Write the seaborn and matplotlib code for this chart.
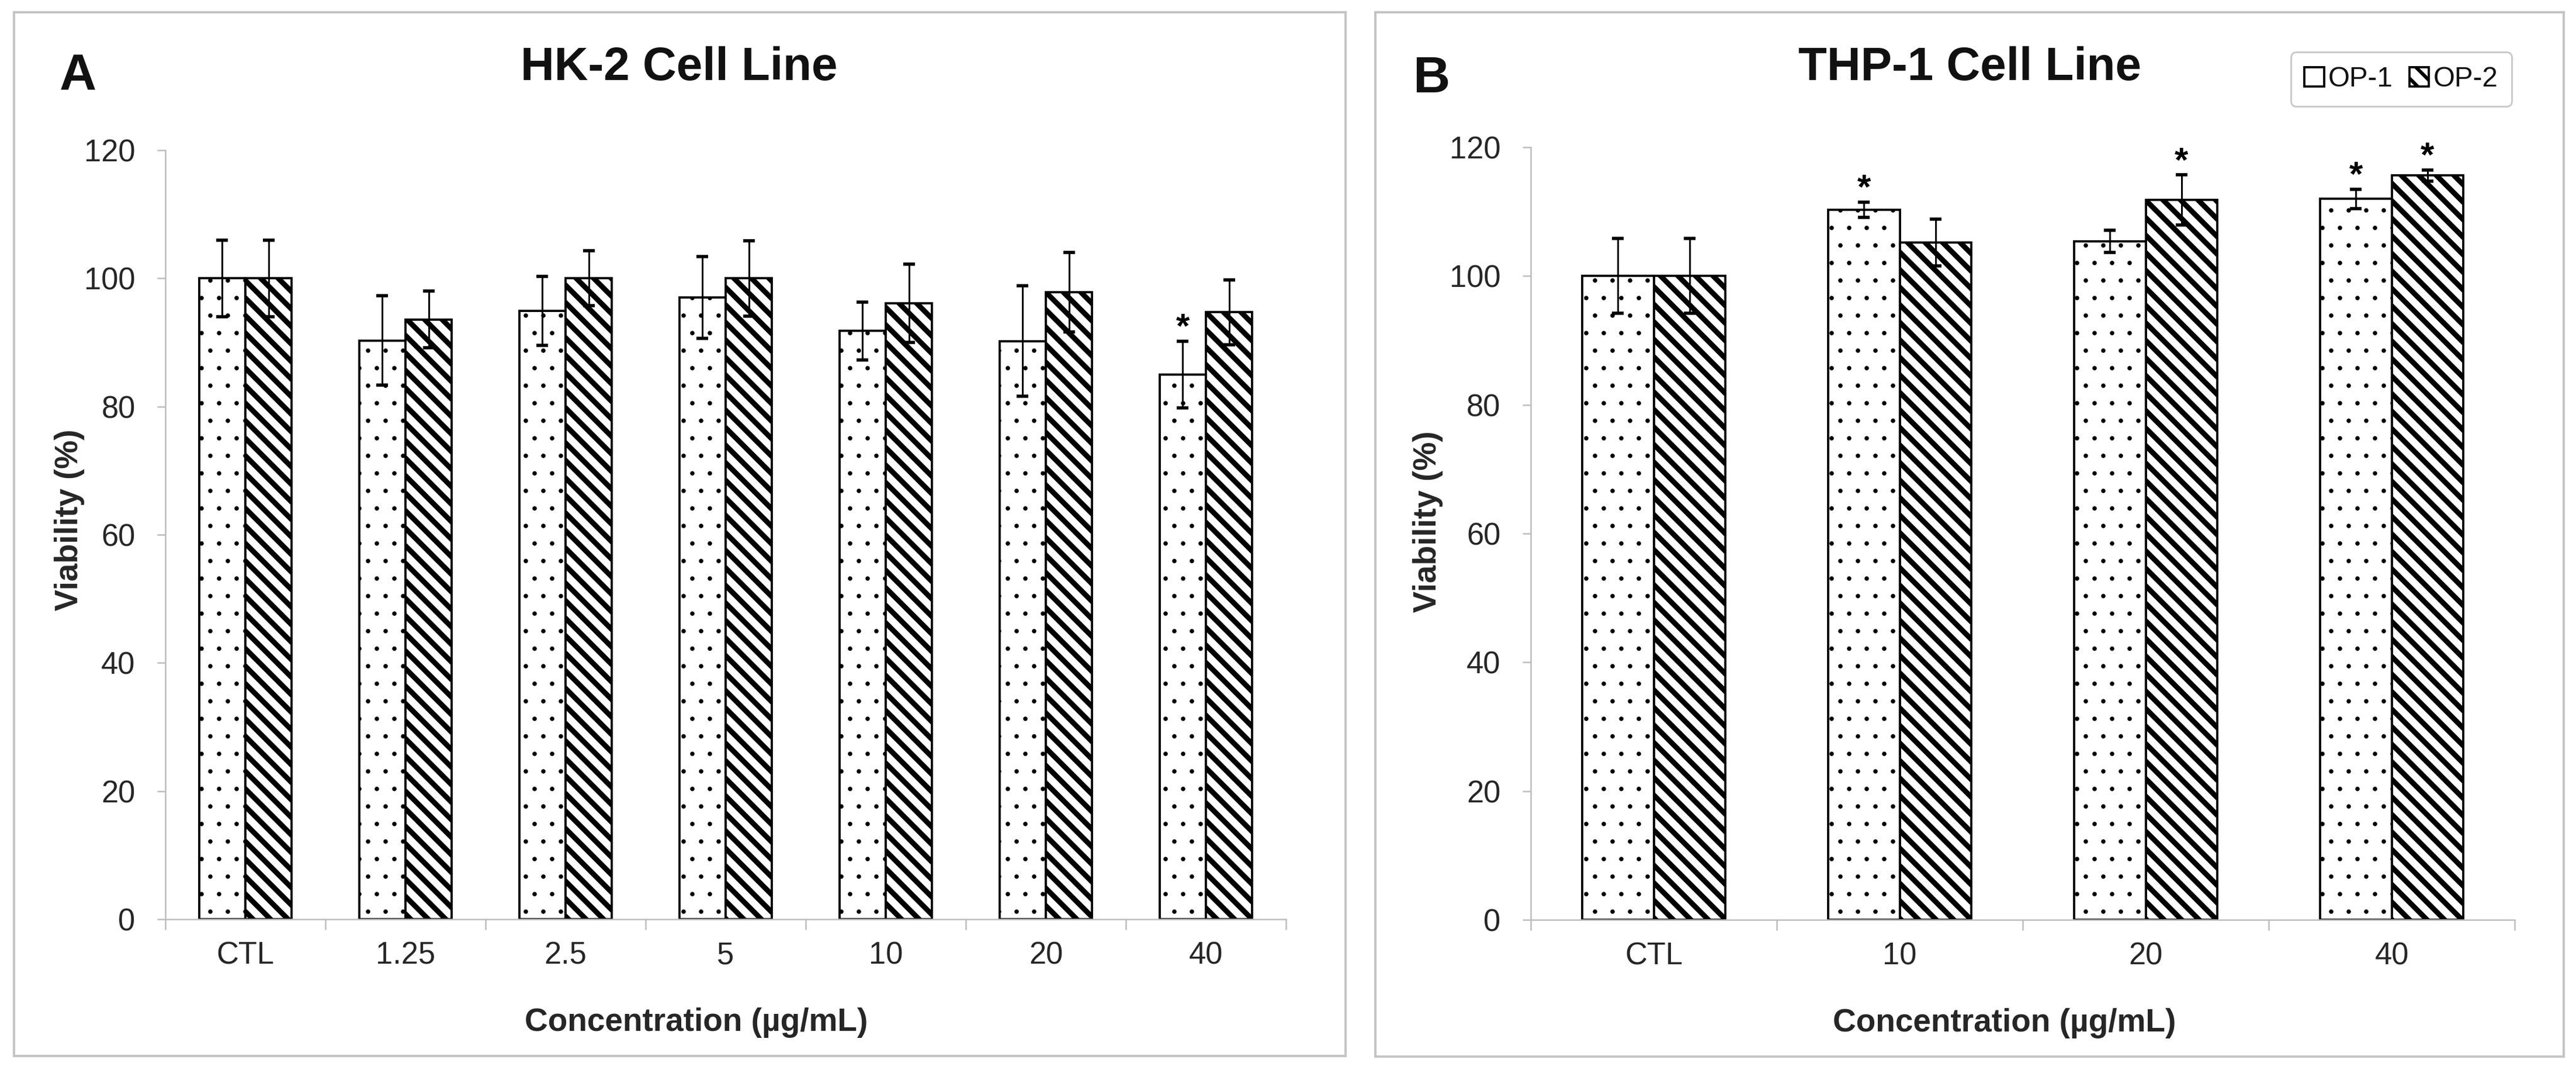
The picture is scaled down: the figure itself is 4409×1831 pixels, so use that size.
import matplotlib
matplotlib.use("Agg")
import matplotlib.pyplot as plt
from matplotlib.patches import Patch, Rectangle
import numpy as np
import pandas as pd
import seaborn as sns

W, H, DPI = 4409, 1831, 180

# HK-2 cell line (panel A)
hk2_conc = ["CTL", "1.25", "2.5", "5", "10", "20", "40"]
hk2_op1 = [100.0, 90.3, 94.9, 97.0, 91.8, 90.2, 85.0]
hk2_op1_err = [6.0, 7.0, 5.4, 6.4, 4.5, 8.6, 5.2]
hk2_op2 = [100.0, 93.6, 100.0, 100.0, 96.1, 97.8, 94.7]
hk2_op2_err = [6.0, 4.4, 4.3, 5.9, 6.1, 6.2, 5.1]
hk2_op1_sig = [False, False, False, False, False, False, True]
hk2_op2_sig = [False, False, False, False, False, False, False]

# THP-1 cell line (panel B)
thp1_conc = ["CTL", "10", "20", "40"]
thp1_op1 = [100.0, 110.3, 105.4, 112.0]
thp1_op1_err = [5.8, 1.2, 1.7, 1.5]
thp1_op2 = [100.0, 105.2, 111.8, 115.6]
thp1_op2_err = [5.8, 3.6, 3.9, 0.9]
thp1_op1_sig = [False, True, False, True]
thp1_op2_sig = [False, False, True, True]

groups = ["OP-1", "OP-2"]
hatches = {"OP-1": ".", "OP-2": "\\\\"}
hatch_lw = {"OP-1": 0.6, "OP-2": 3.6}

AXIS_GRAY = "#bdbdbd"
BOX_GRAY = "#c4c4c4"

sns.set_theme(style="ticks")
plt.rcParams["font.family"] = ["Liberation Sans", "DejaVu Sans"]
plt.rcParams["hatch.linewidth"] = 1.2
plt.rcParams["text.color"] = "#111111"


def draw_panel(ax, conc, means, errs, sigs):
    df = pd.DataFrame({
        "conc": np.tile(conc, 2),
        "group": np.repeat(groups, len(conc)),
        "viability": np.concatenate(means),
    })
    sns.barplot(data=df, x="conc", y="viability", hue="group",
                order=conc, hue_order=groups,
                palette={"OP-1": "white", "OP-2": "white"}, saturation=1,
                edgecolor="black", linewidth=1.5, width=0.58,
                errorbar=None, legend=False, ax=ax)

    for cont, g, err, sig in zip(ax.containers, groups, errs, sigs):
        xs, ys = [], []
        for bar in cont:
            bar.set_hatch(hatches[g])
            bar.set_hatch_linewidth(hatch_lw[g])
            xs.append(bar.get_x() + bar.get_width() / 2)
            ys.append(bar.get_height())
        ax.errorbar(xs, ys, yerr=err, fmt="none", ecolor="black",
                    elinewidth=1.2, capsize=4, capthick=2.2, zorder=5)
        for x, y, e, s in zip(xs, ys, err, sig):
            if s:
                ax.text(x, y + e + 0.5, "*", ha="center", va="baseline",
                        fontsize=24, fontweight="bold", color="black")

    n = len(conc)
    ax.set_ylim(0, 120)
    ax.set_yticks(range(0, 121, 20))
    ax.set_xlim(-0.5, n - 0.5)
    ax.set_xticks(np.arange(n))
    ax.set_xticklabels(conc)
    # Excel-style ticks between categories
    ax.set_xticks(np.arange(n + 1) - 0.5, minor=True)
    ax.tick_params(axis="x", which="major", length=0, pad=15, labelsize=21)
    ax.tick_params(axis="x", which="minor", length=7, width=1,
                   color=AXIS_GRAY, direction="out")
    ax.tick_params(axis="y", length=5.6, width=1, color=AXIS_GRAY,
                   pad=15, labelsize=21, direction="out")
    sns.despine(ax=ax)
    for s in ["left", "bottom"]:
        ax.spines[s].set_color(AXIS_GRAY)
        ax.spines[s].set_linewidth(1)
    ax.set_xlabel("Concentration (µg/mL)", fontsize=22, fontweight="bold")
    ax.set_ylabel("Viability (%)", fontsize=22, fontweight="bold")
    ax.xaxis.label.set_verticalalignment("baseline")
    ax.yaxis.label.set_verticalalignment("center")


fig = plt.figure(figsize=(W / DPI, H / DPI), dpi=DPI)
fig.patch.set_facecolor("white")

ax1 = fig.add_axes([283 / W, 1 - 1573 / H, 1918 / W, 1316 / H])
draw_panel(ax1, hk2_conc, [hk2_op1, hk2_op2], [hk2_op1_err, hk2_op2_err],
           [hk2_op1_sig, hk2_op2_sig])
ax1.xaxis.set_label_coords((1192 - 283) / 1918, (1573 - 1764) / 1316)
ax1.yaxis.set_label_coords((119 - 283) / 1918, (1573 - 890) / 1316)

ax2 = fig.add_axes([2620 / W, 1 - 1574 / H, 1684 / W, 1322 / H])
draw_panel(ax2, thp1_conc, [thp1_op1, thp1_op2], [thp1_op1_err, thp1_op2_err],
           [thp1_op1_sig, thp1_op2_sig])
ax2.xaxis.set_label_coords((3431 - 2620) / 1684, (1574 - 1765) / 1322)
ax2.yaxis.set_label_coords((2444 - 2620) / 1684, (1574 - 893) / 1322)

# panel frames
for x0, y0, x1, y1 in [(24, 21, 2303, 1807), (2354, 21, 4388, 1808)]:
    fig.add_artist(Rectangle((x0 / W, 1 - y1 / H), (x1 - x0) / W, (y1 - y0) / H,
                             transform=fig.transFigure, fill=False,
                             edgecolor=BOX_GRAY, linewidth=1.6))

# titles and panel letters
fig.text(1162 / W, 1 - 137 / H, "HK-2 Cell Line", ha="center", va="baseline",
         fontsize=32, fontweight="bold")
fig.text(3371 / W, 1 - 137 / H, "THP-1 Cell Line", ha="center", va="baseline",
         fontsize=32, fontweight="bold")
fig.text(102 / W, 1 - 153 / H, "A", ha="left", va="baseline",
         fontsize=35, fontweight="bold")
fig.text(2418 / W, 1 - 158 / H, "B", ha="left", va="baseline",
         fontsize=35, fontweight="bold")

legend_hatch = {"OP-1": None, "OP-2": "\\\\"}
handles = [Patch(facecolor="white", edgecolor="black", hatch=legend_hatch[g],
                 linewidth=1.5, label=g) for g in groups]
leg = fig.legend(handles=handles, loc="upper right",
                 bbox_to_anchor=(4299 / W, 1 - 89 / H), ncol=2, frameon=True,
                 fontsize=19, handlelength=0.7, handleheight=0.7,
                 handletextpad=0.15, columnspacing=0.6, borderpad=0.5,
                 borderaxespad=0, fancybox=True)
leg.get_frame().set_edgecolor(AXIS_GRAY)
leg.get_frame().set_linewidth(1.2)
for p in leg.get_patches():
    p.set_hatch_linewidth(2.4)

fig.savefig("out.png", dpi=DPI, facecolor="white")
